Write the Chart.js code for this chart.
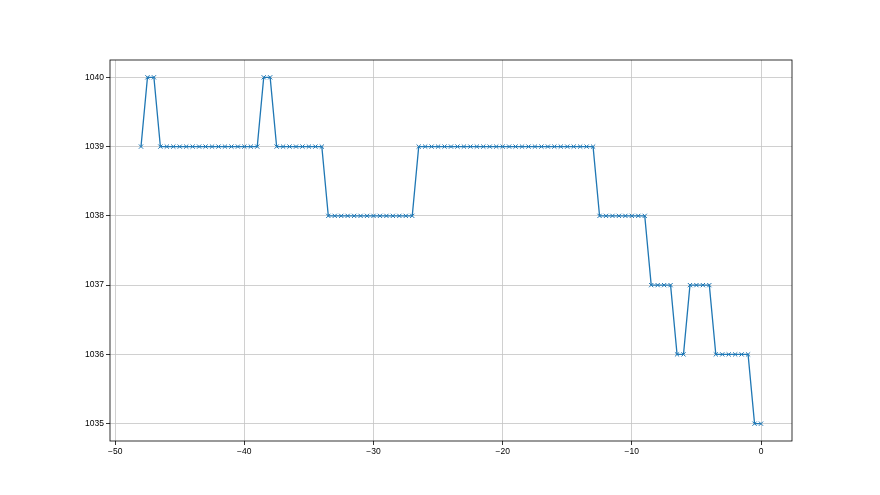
<!DOCTYPE html>
<html><head><meta charset="utf-8">
<script src="https://cdn.jsdelivr.net/npm/chart.js@4/dist/chart.umd.min.js"></script>
<style>html,body{margin:0;padding:0;background:#fff}#c{display:block}</style>
</head><body>
<canvas id="c" width="880" height="495"></canvas>
<script>
const xValues = [-48,-47.5,-47,-46.5,-46,-45.5,-45,-44.5,-44,-43.5,-43,-42.5,-42,-41.5,-41,-40.5,-40,-39.5,-39,-38.5,-38,-37.5,-37,-36.5,-36,-35.5,-35,-34.5,-34,-33.5,-33,-32.5,-32,-31.5,-31,-30.5,-30,-29.5,-29,-28.5,-28,-27.5,-27,-26.5,-26,-25.5,-25,-24.5,-24,-23.5,-23,-22.5,-22,-21.5,-21,-20.5,-20,-19.5,-19,-18.5,-18,-17.5,-17,-16.5,-16,-15.5,-15,-14.5,-14,-13.5,-13,-12.5,-12,-11.5,-11,-10.5,-10,-9.5,-9,-8.5,-8,-7.5,-7,-6.5,-6,-5.5,-5,-4.5,-4,-3.5,-3,-2.5,-2,-1.5,-1,-0.5,0];
const yValues = [1039,1040,1040,1039,1039,1039,1039,1039,1039,1039,1039,1039,1039,1039,1039,1039,1039,1039,1039,1040,1040,1039,1039,1039,1039,1039,1039,1039,1039,1038,1038,1038,1038,1038,1038,1038,1038,1038,1038,1038,1038,1038,1038,1039,1039,1039,1039,1039,1039,1039,1039,1039,1039,1039,1039,1039,1039,1039,1039,1039,1039,1039,1039,1039,1039,1039,1039,1039,1039,1039,1039,1038,1038,1038,1038,1038,1038,1038,1038,1037,1037,1037,1037,1036,1036,1037,1037,1037,1037,1036,1036,1036,1036,1036,1036,1035,1035];
const xTicks = [-50,-40,-30,-20,-10,0];
const yTicks = [1035,1036,1037,1038,1039,1040];

const frame = {
  id:'frame',
  afterDatasetsDraw(chart){
    const {ctx, chartArea:a} = chart;
    ctx.save();
    ctx.strokeStyle='#000'; ctx.lineWidth=0.8;
    ctx.strokeRect(a.left, a.top, a.right-a.left, a.bottom-a.top);
    ctx.restore();
  }
};

new Chart(document.getElementById('c'), {
  type:'scatter',
  data:{datasets:[{
    data: xValues.map((x,i)=>({x, y:yValues[i]})),
    showLine:true,
    borderColor:'#1f77b4',
    backgroundColor:'#1f77b4',
    borderWidth:1.3,
    pointStyle:'crossRot',
    pointRadius:3,
    pointBorderWidth:1,
    pointBorderColor:'#1f77b4',
    tension:0
  }]},
  options:{
    responsive:false, animation:false,
    layout:{padding:{left:0,right:88,top:60,bottom:0}},
    plugins:{legend:{display:false},tooltip:{enabled:false}},
    scales:{
      x:{type:'linear', min:-50.4, max:2.4,
        afterBuildTicks:s=>{s.ticks=xTicks.map(v=>({value:v}));},
        afterFit:s=>{s.height=54;},
        grid:{color:'#c4c4c4', lineWidth:0.8, tickLength:4, tickColor:'#000', drawOnChartArea:true},
        border:{display:false},
        ticks:{color:'#000', font:{family:'Liberation Sans', size:8.5}, padding:2, maxRotation:0,
          callback:v=>String(v).replace('-','\u2212')}
      },
      y:{type:'linear', min:1034.75, max:1040.25,
        afterBuildTicks:s=>{s.ticks=yTicks.map(v=>({value:v}));},
        afterFit:s=>{s.width=110;},
        grid:{color:'#c4c4c4', lineWidth:0.8, tickLength:4, tickColor:'#000'},
        border:{display:false},
        ticks:{color:'#000', font:{family:'Liberation Sans', size:8.5}, padding:2, callback:v=>String(v)}
      }
    }
  },
  plugins:[frame]
});
</script>
</body></html>
